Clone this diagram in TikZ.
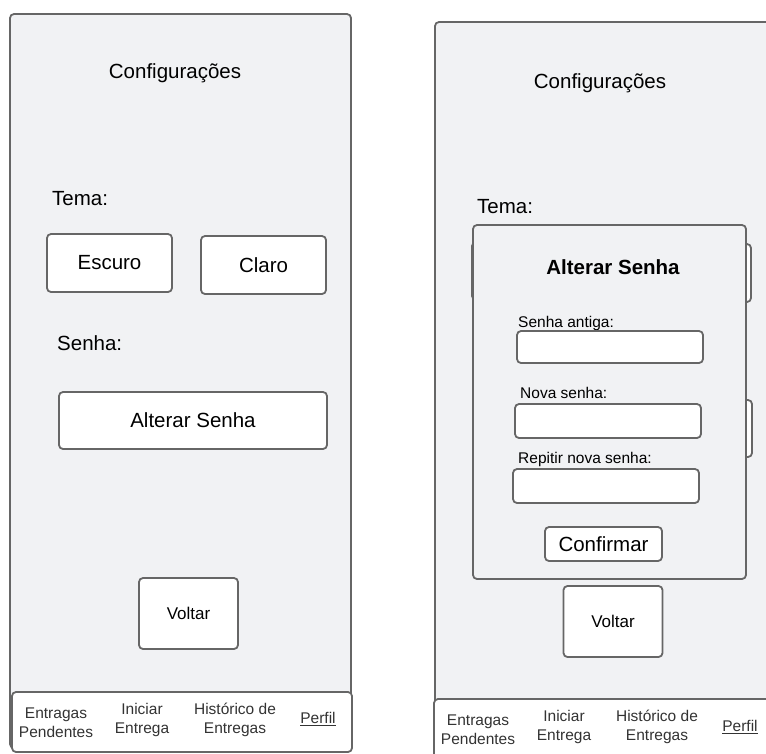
\documentclass[tikz,border=0pt]{standalone}
\usepackage{fontspec}
\setmainfont{Liberation Sans}
\definecolor{screenbg}{HTML}{F1F2F4}
\definecolor{edgegray}{HTML}{666666}
\definecolor{navgray}{HTML}{333333}
\begin{document}
\begin{tikzpicture}[
	x=1pt, y=-1pt,
	font=\fontsize{20.5}{24}\selectfont,
	screen/.style={draw=edgegray, fill=screenbg, line width=1.8pt, rounded corners=4pt},
	navbar/.style={draw=edgegray, fill=white, line width=1.8pt, rounded corners=4pt},
	btn/.style={draw=edgegray, fill=white, line width=1.8pt, rounded corners=4pt, inner sep=0pt},
	lbl/.style={inner sep=0pt, anchor=west},
	small/.style={font=\fontsize{15.5}{19}\selectfont},
	nav/.style={small, align=center, inner sep=0pt, text=navgray},
	]
\useasboundingbox (0,0) rectangle (766,753);
\clip (0,0) rectangle (766,753);
% tela de configuracoes
\draw [screen] (10,14) rectangle (351,748);
\node (l-title) at (175,73) {Configurações};
\node [lbl] (l-tema) at (52,199) {Tema:};
\node [btn, minimum width=125pt, minimum height=58pt] (l-escuro) at (109.5,263) {Escuro};
\node [btn, minimum width=125pt, minimum height=58pt] (l-claro) at (263.5,265) {Claro};
\node [lbl] (l-senha) at (57,343) {Senha:};
\node [btn, minimum width=268pt, minimum height=57pt] (l-alterar) at (193,420.5) {Alterar Senha};
\node [btn, minimum width=99pt, minimum height=71pt, font=\fontsize{17}{20}\selectfont] (l-voltar) at (188.5,613.5) {Voltar};
\draw [navbar] (12,692) rectangle (352,752);
\node [nav] (l-pend) at (56,723) {Entragas\\Pendentes};
\node [nav] (l-iniciar) at (142,720) {Iniciar\\Entrega};
\node [nav] (l-hist) at (235,720) {Histórico de\\Entregas};
\node [nav] (l-perfil) at (318,719) {\underline{Perfil}};
% tela com o popup
\draw [screen] (435,22) rectangle (790,770);
\node (r-title) at (600,83) {Configurações};
\node [lbl] (r-tema) at (477,207) {Tema:};
\node [btn, minimum width=125pt, minimum height=58pt] (r-escuro) at (534.5,271) {};
\node [btn, minimum width=125pt, minimum height=58pt] (r-claro) at (688.5,273) {};
\node [btn, minimum width=268pt, minimum height=57pt] (r-alterar) at (618,428.5) {};
\node [btn, minimum width=99pt, minimum height=71pt, font=\fontsize{17}{20}\selectfont] (r-voltar) at (613,621.5) {Voltar};
\draw [screen] (473,225) rectangle (746,579);
\node [font=\fontsize{20.5}{24}\selectfont\bfseries] (p-title) at (613,267) {Alterar Senha};
\node [lbl, small] (p-antiga) at (518,323) {Senha antiga:};
\node [btn, minimum width=186pt, minimum height=32pt] (p-f1) at (610,347) {};
\node [lbl, small] (p-nova) at (520,393) {Nova senha:};
\node [btn, minimum width=186pt, minimum height=34pt] (p-f2) at (608,421) {};
\node [lbl, small] (p-rep) at (518,459) {Repitir nova senha:};
\node [btn, minimum width=186pt, minimum height=34pt] (p-f3) at (606,486) {};
\node [btn, minimum width=117pt, minimum height=34pt] (p-ok) at (603.5,544) {Confirmar};
\draw [navbar] (434,699) rectangle (790,770);
\node [nav] (r-pend) at (478,730) {Entragas\\Pendentes};
\node [nav] (r-iniciar) at (564,727) {Iniciar\\Entrega};
\node [nav] (r-hist) at (657,727) {Histórico de\\Entregas};
\node [nav] (r-perfil) at (740,727) {\underline{Perfil}};
\end{tikzpicture}
\end{document}
